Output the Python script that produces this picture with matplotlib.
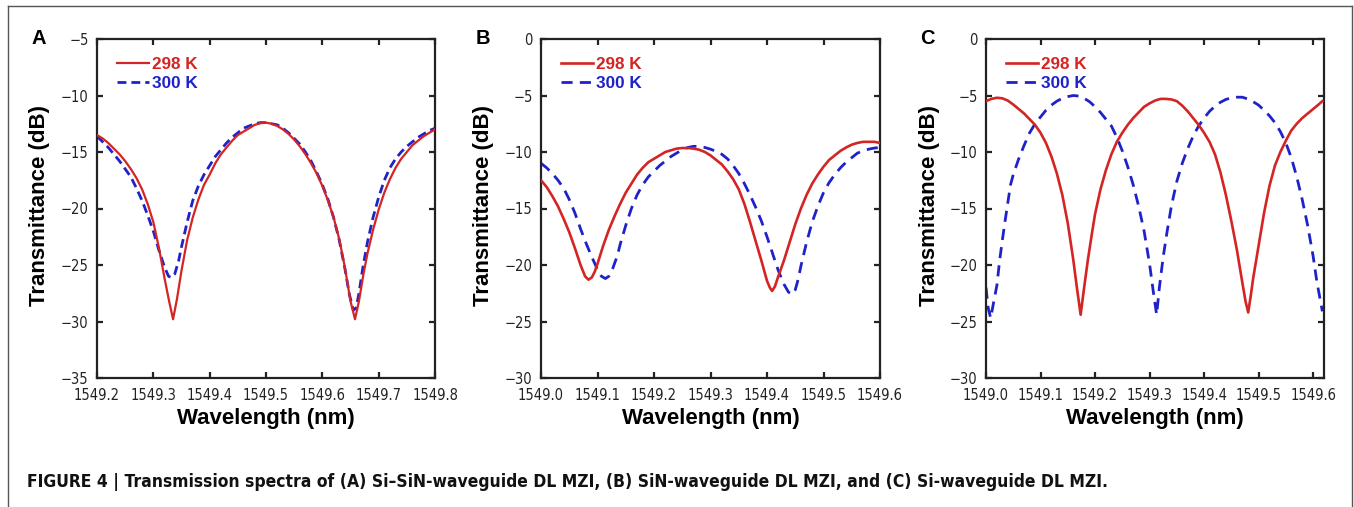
import matplotlib
matplotlib.use("Agg")
import matplotlib.pyplot as plt
from matplotlib.lines import Line2D
from matplotlib import font_manager

# ---------------- data ----------------
# Panel A : Si-SiN-waveguide DL MZI
a_red_wl = [1549.20, 1549.21, 1549.22, 1549.23, 1549.24, 1549.25, 1549.26, 1549.27, 1549.28, 1549.29,
            1549.30, 1549.31, 1549.32, 1549.328, 1549.335, 1549.342, 1549.35, 1549.36, 1549.37, 1549.38,
            1549.39, 1549.40, 1549.41, 1549.42, 1549.43, 1549.44, 1549.45, 1549.46, 1549.47, 1549.48,
            1549.49, 1549.50, 1549.51, 1549.52, 1549.53, 1549.54, 1549.55, 1549.56, 1549.57, 1549.58,
            1549.59, 1549.60, 1549.61, 1549.62, 1549.63, 1549.64, 1549.65, 1549.658, 1549.665, 1549.673,
            1549.68, 1549.69, 1549.70, 1549.71, 1549.72, 1549.73, 1549.74, 1549.75, 1549.76, 1549.77,
            1549.78, 1549.79, 1549.80]
a_red_db = [-13.5, -13.8, -14.2, -14.7, -15.2, -15.8, -16.5, -17.3, -18.3, -19.6,
            -21.2, -23.5, -26.2, -28.2, -29.8, -28.0, -25.5, -22.8, -20.8, -19.2,
            -17.9, -17.0, -16.0, -15.2, -14.6, -14.0, -13.5, -13.2, -12.9, -12.6,
            -12.45, -12.4, -12.5, -12.7, -13.0, -13.4, -13.9, -14.5, -15.2, -16.0,
            -16.9, -18.0, -19.3, -20.8, -22.7, -25.2, -28.2, -29.8, -28.2, -25.8,
            -24.0, -21.9, -20.1, -18.6, -17.4, -16.4, -15.6, -15.0, -14.4, -14.0,
            -13.6, -13.3, -13.0]
a_blue_wl = [1549.20, 1549.21, 1549.22, 1549.23, 1549.24, 1549.25, 1549.26, 1549.27, 1549.28, 1549.29,
             1549.30, 1549.31, 1549.32, 1549.327, 1549.332, 1549.338, 1549.345, 1549.35, 1549.36, 1549.37,
             1549.38, 1549.39, 1549.40, 1549.41, 1549.42, 1549.43, 1549.44, 1549.45, 1549.46, 1549.47,
             1549.48, 1549.49, 1549.50, 1549.51, 1549.52, 1549.53, 1549.54, 1549.55, 1549.56, 1549.57,
             1549.58, 1549.59, 1549.60, 1549.61, 1549.62, 1549.63, 1549.64, 1549.648, 1549.655, 1549.66,
             1549.665, 1549.672, 1549.68, 1549.69, 1549.70, 1549.71, 1549.72, 1549.73, 1549.74, 1549.75,
             1549.76, 1549.77, 1549.78, 1549.79, 1549.80]
a_blue_db = [-13.6, -14.1, -14.6, -15.2, -15.8, -16.5, -17.2, -18.2, -19.3, -20.6,
             -22.0, -23.7, -25.2, -26.0, -26.1, -25.8, -24.6, -23.4, -21.2, -19.3,
             -18.0, -17.0, -16.2, -15.4, -14.8, -14.2, -13.7, -13.3, -12.9, -12.7,
             -12.5, -12.4, -12.4, -12.5, -12.6, -12.9, -13.3, -13.8, -14.3, -15.0,
             -15.8, -16.8, -17.9, -19.2, -20.8, -22.8, -25.3, -27.6, -29.0, -28.8,
             -27.5, -25.2, -23.0, -20.8, -19.0, -17.5, -16.4, -15.6, -15.0, -14.5,
             -14.1, -13.7, -13.4, -13.1, -12.9]

# Panel B : SiN-waveguide DL MZI
b_red_wl = [1549.000, 1549.01, 1549.02, 1549.03, 1549.04, 1549.05, 1549.06, 1549.07, 1549.078, 1549.084,
            1549.09, 1549.095, 1549.10, 1549.11, 1549.12, 1549.13, 1549.14, 1549.15, 1549.16, 1549.17,
            1549.18, 1549.19, 1549.20, 1549.21, 1549.22, 1549.23, 1549.24, 1549.25, 1549.26, 1549.27,
            1549.28, 1549.29, 1549.30, 1549.31, 1549.32, 1549.33, 1549.34, 1549.35, 1549.36, 1549.37,
            1549.38, 1549.39, 1549.40, 1549.405, 1549.409, 1549.414, 1549.42, 1549.43, 1549.44, 1549.45,
            1549.46, 1549.47, 1549.48, 1549.49, 1549.50, 1549.51, 1549.52, 1549.53, 1549.54, 1549.55,
            1549.56, 1549.57, 1549.58, 1549.59, 1549.60]
b_red_db = [-12.5, -13.1, -13.9, -14.8, -15.9, -17.1, -18.5, -20.0, -21.0, -21.3,
            -21.1, -20.6, -19.9, -18.3, -16.9, -15.7, -14.6, -13.6, -12.8, -12.0,
            -11.4, -10.9, -10.6, -10.3, -10.0, -9.85, -9.7, -9.65, -9.65, -9.7,
            -9.8, -10.0, -10.3, -10.7, -11.1, -11.7, -12.4, -13.3, -14.6, -16.2,
            -17.9, -19.6, -21.4, -22.0, -22.3, -21.9, -21.0, -19.6, -18.0, -16.4,
            -15.0, -13.8, -12.8, -12.0, -11.3, -10.7, -10.3, -9.9, -9.6, -9.35,
            -9.2, -9.1, -9.1, -9.1, -9.2]
b_blue_wl = [1549.000, 1549.01, 1549.02, 1549.03, 1549.04, 1549.05, 1549.06, 1549.07, 1549.08, 1549.09,
             1549.10, 1549.107, 1549.114, 1549.12, 1549.127, 1549.135, 1549.14, 1549.15, 1549.16, 1549.17,
             1549.18, 1549.19, 1549.20, 1549.21, 1549.22, 1549.23, 1549.24, 1549.25, 1549.26, 1549.27,
             1549.28, 1549.29, 1549.30, 1549.31, 1549.32, 1549.33, 1549.34, 1549.35, 1549.36, 1549.37,
             1549.38, 1549.39, 1549.40, 1549.41, 1549.42, 1549.43, 1549.438, 1549.445, 1549.45, 1549.455,
             1549.46, 1549.47, 1549.48, 1549.49, 1549.50, 1549.51, 1549.52, 1549.53, 1549.54, 1549.55,
             1549.56, 1549.57, 1549.58, 1549.59, 1549.60]
b_blue_db = [-11.0, -11.4, -11.9, -12.5, -13.2, -14.2, -15.4, -16.8, -18.1, -19.3,
             -20.4, -21.0, -21.2, -21.0, -20.3, -19.2, -18.2, -16.5, -15.0, -13.8,
             -12.9, -12.2, -11.7, -11.2, -10.8, -10.4, -10.1, -9.8, -9.6, -9.5,
             -9.5, -9.6, -9.75, -9.95, -10.2, -10.6, -11.2, -11.9, -12.8, -13.8,
             -14.9, -16.1, -17.5, -19.0, -20.5, -21.7, -22.4, -22.6, -22.2, -21.3,
             -20.1, -18.0, -16.2, -14.8, -13.6, -12.7, -12.0, -11.4, -10.9, -10.5,
             -10.1, -9.9, -9.75, -9.65, -9.6]

# Panel C : Si-waveguide DL MZI
c_red_wl = [1549.000, 1549.01, 1549.02, 1549.03, 1549.04, 1549.05, 1549.06, 1549.07, 1549.08, 1549.09,
            1549.10, 1549.11, 1549.12, 1549.13, 1549.14, 1549.15, 1549.16, 1549.167, 1549.1736, 1549.18,
            1549.187, 1549.195, 1549.20, 1549.21, 1549.22, 1549.23, 1549.24, 1549.25, 1549.26, 1549.27,
            1549.28, 1549.29, 1549.30, 1549.31, 1549.32, 1549.33, 1549.34, 1549.35, 1549.36, 1549.37,
            1549.38, 1549.39, 1549.40, 1549.41, 1549.42, 1549.43, 1549.44, 1549.45, 1549.46, 1549.47,
            1549.476, 1549.481, 1549.486, 1549.49, 1549.50, 1549.51, 1549.52, 1549.53, 1549.54, 1549.55,
            1549.56, 1549.57, 1549.58, 1549.59, 1549.60, 1549.61, 1549.617]
c_red_db = [-5.5, -5.3, -5.2, -5.25, -5.45, -5.8, -6.2, -6.6, -7.1, -7.6,
            -8.3, -9.2, -10.4, -11.9, -13.8, -16.3, -19.5, -22.1, -24.4, -22.0,
            -19.5, -17.0, -15.5, -13.3, -11.6, -10.2, -9.1, -8.3, -7.6, -7.0,
            -6.5, -6.0, -5.7, -5.45, -5.3, -5.3, -5.35, -5.5, -5.9, -6.4,
            -7.0, -7.6, -8.3, -9.1, -10.2, -11.8, -13.8, -16.1, -18.6, -21.5,
            -23.2, -24.2, -22.6, -21.2, -18.3, -15.4, -13.0, -11.2, -10.0, -9.0,
            -8.1, -7.5, -7.0, -6.6, -6.2, -5.8, -5.5]
c_blue_wl = [1549.000, 1549.004, 1549.0086, 1549.014, 1549.02, 1549.025, 1549.03, 1549.035, 1549.04, 1549.045,
             1549.05, 1549.06, 1549.07, 1549.08, 1549.09, 1549.10, 1549.11, 1549.12, 1549.13, 1549.14,
             1549.15, 1549.16, 1549.17, 1549.18, 1549.19, 1549.20, 1549.21, 1549.22, 1549.23, 1549.24,
             1549.25, 1549.26, 1549.27, 1549.28, 1549.29, 1549.30, 1549.307, 1549.313, 1549.318, 1549.325,
             1549.332, 1549.34, 1549.35, 1549.36, 1549.37, 1549.38, 1549.39, 1549.40, 1549.41, 1549.42,
             1549.43, 1549.44, 1549.45, 1549.46, 1549.47, 1549.48, 1549.49, 1549.50, 1549.51, 1549.52,
             1549.53, 1549.54, 1549.55, 1549.56, 1549.57, 1549.58, 1549.59, 1549.60, 1549.607, 1549.617]
c_blue_db = [-22.0, -23.8, -24.7, -23.3, -21.8, -19.6, -17.8, -16.1, -14.5, -12.9,
             -12.0, -10.6, -9.4, -8.3, -7.5, -6.9, -6.3, -5.85, -5.5, -5.25,
             -5.1, -5.0, -5.05, -5.25, -5.55, -6.0, -6.5, -7.1, -7.7, -8.7,
             -9.9, -11.3, -12.9, -14.8, -17.0, -19.9, -22.4, -24.4, -22.0, -19.3,
             -17.1, -14.8, -12.6, -11.0, -9.7, -8.6, -7.7, -7.0, -6.4, -5.95,
             -5.6, -5.35, -5.2, -5.15, -5.15, -5.3, -5.55, -5.85, -6.3, -6.8,
             -7.4, -8.2, -9.2, -10.5, -12.2, -14.2, -16.5, -19.2, -21.5, -24.1]

series_labels = ["298 K", "300 K"]
panel_letters = ["A", "B", "C"]
xlims = [(1549.2, 1549.8), (1549.0, 1549.6), (1549.0, 1549.62)]
ylims = [(-35, -5), (-30, 0), (-30, 0)]
xtick_vals = [[1549.2, 1549.3, 1549.4, 1549.5, 1549.6, 1549.7, 1549.8],
              [1549.0, 1549.1, 1549.2, 1549.3, 1549.4, 1549.5, 1549.6],
              [1549.0, 1549.1, 1549.2, 1549.3, 1549.4, 1549.5, 1549.6]]
ytick_vals = [[-35, -30, -25, -20, -15, -10, -5],
              [-30, -25, -20, -15, -10, -5, 0],
              [-30, -25, -20, -15, -10, -5, 0]]
xlabel = "Wavelength (nm)"
ylabel = "Transmittance (dB)"
caption = ("FIGURE 4 | Transmission spectra of (A) Si–SiN-waveguide DL MZI, "
           "(B) SiN-waveguide DL MZI, and (C) Si-waveguide DL MZI.")

panels = [
    (a_red_wl, a_red_db, a_blue_wl, a_blue_db),
    (b_red_wl, b_red_db, b_blue_wl, b_blue_db),
    (c_red_wl, c_red_db, c_blue_wl, c_blue_db),
]

# ---------------- fonts ----------------
plt.rcParams['font.family'] = ['Liberation Sans', 'DejaVu Sans']
installed = {(f.name, f.stretch) for f in font_manager.fontManager.ttflist}
names = {n for n, s in installed}
if 'Liberation Sans Narrow' in names:
    narrow_kw = dict(family=['Liberation Sans Narrow', 'DejaVu Sans'])
    tick_size, cap_size = 12.0, 15
elif any(n == 'DejaVu Sans' and str(s) in ('condensed', 'semi-condensed', '87.5', '75') for n, s in installed):
    narrow_kw = dict(family=['DejaVu Sans'], stretch='condensed')
    tick_size, cap_size = 10.5, 12.5
else:
    narrow_kw = dict(family=['Liberation Sans', 'DejaVu Sans'])
    tick_size, cap_size = 11.0, 13.3

# ---------------- styling ----------------
RED = "#d42424"
BLUE = "#1f22c8"
W, H = 1354, 507

fig = plt.figure(figsize=(W / 100, H / 100), dpi=100)

# outer frame
for (x0, y0, x1, y1) in [(8, 6, 1352, 6), (8, 6, 8, 507), (1352, 6, 1352, 507)]:
    fig.add_artist(Line2D([x0 / W, x1 / W], [1 - y0 / H, 1 - y1 / H],
                          transform=fig.transFigure, color="#555555", lw=1.0))

axes_px = [(97, 435), (541, 880), (986, 1324)]
top_px, bot_px = 39, 378
letter_x = [39, 483, 927]
dashes = [(3.2, 1.8), (4.0, 2.6), (4.0, 2.6)]

for i, (ax_lr, data) in enumerate(zip(axes_px, panels)):
    l, r = ax_lr
    ax = fig.add_axes([l / W, 1 - bot_px / H, (r - l) / W, (bot_px - top_px) / H])
    rw, rd, bw, bd = data
    ax.plot(rw, rd, color=RED, lw=1.6 if i == 0 else 1.9, label=series_labels[0],
            zorder=3, solid_joinstyle='round')
    ax.plot(bw, bd, color=BLUE, lw=2.0, ls=(0, dashes[i]), label=series_labels[1], zorder=2)
    ax.set_xlim(*xlims[i])
    ax.set_ylim(*ylims[i])
    ax.set_xticks(xtick_vals[i])
    ax.set_xticklabels([f"{v:.1f}" for v in xtick_vals[i]])
    ax.set_yticks(ytick_vals[i])
    ax.set_yticklabels([f"{v:d}".replace("-", "\u2212") for v in ytick_vals[i]])
    ax.tick_params(direction='in', top=True, right=True, length=4.5, width=1.6,
                   labelsize=tick_size, colors='#222222', pad=6)
    ax.tick_params(axis='x', pad=7)
    for lab in ax.get_xticklabels() + ax.get_yticklabels():
        lab.set_fontproperties(font_manager.FontProperties(size=tick_size, **narrow_kw))
    for sp in ax.spines.values():
        sp.set_linewidth(1.6)
        sp.set_color('#222222')
    ax.set_xlabel(xlabel, fontsize=16, fontweight='bold')
    ax.xaxis.set_label_coords(0.5, -0.088)
    ax.xaxis.label.set_va('top')
    ax.set_ylabel(ylabel, fontsize=16, fontweight='bold', va='center')
    ax.yaxis.set_label_coords(-57 / (r - l), 0.51)
    leg = ax.legend(loc='upper left', frameon=False, handlelength=1.9, handletextpad=0.15,
                    borderaxespad=0.0, borderpad=0.0, bbox_to_anchor=(0.059, 0.946),
                    labelspacing=0.2, prop={'weight': 'bold', 'size': 12.3})
    for txt, col in zip(leg.get_texts(), [RED, BLUE]):
        txt.set_color(col)
    fig.text(letter_x[i] / W, 1 - 39 / H, panel_letters[i], fontsize=14.5, fontweight='bold',
             ha='center', va='center')

fig.text(27 / W, 1 - 482 / H, caption, ha='left', va='center', color='#111111',
         fontproperties=font_manager.FontProperties(size=cap_size, weight='bold', **narrow_kw))

fig.savefig("out.png", dpi=100, facecolor='white')
